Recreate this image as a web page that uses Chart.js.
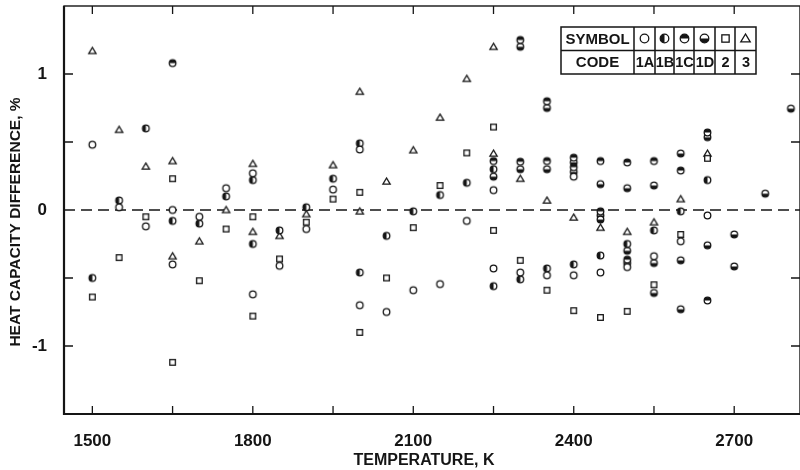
<!DOCTYPE html>
<html>
<head>
<meta charset="utf-8">
<script src="https://cdn.jsdelivr.net/npm/chart.js@4.4.1/dist/chart.umd.min.js"></script>
<style>
  html, body { margin: 0; padding: 0; background: #fff; }
</style>
</head>
<body>
<canvas id="chart" width="800" height="470"></canvas>
<script>
// Codes shown in the symbol table
const codes = ['1A', '1B', '1C', '1D', '2', '3'];

// Code 1A - open circle
const temps1A = [1500, 1550, 1600, 1650, 1650, 1700, 1750, 1800, 1800, 1850, 1900, 1950, 2000, 2000, 2050, 2100, 2150, 2200, 2250, 2250, 2300, 2350, 2400, 2400, 2450, 2500, 2550, 2600, 2650];
const diff1A  = [0.48, 0.02, -0.12, 0.0, -0.40, -0.05, 0.16, 0.27, -0.62, -0.41, -0.14, 0.15, 0.445, -0.70, -0.75, -0.59, -0.545, -0.08, 0.146, -0.43, -0.46, -0.48, 0.245, -0.48, -0.46, -0.42, -0.34, -0.23, -0.04];

// Code 1B - left half filled
const temps1B = [1500, 1550, 1600, 1650, 1700, 1750, 1800, 1800, 1850, 1900, 1950, 2000, 2000, 2050, 2100, 2150, 2200, 2250, 2250, 2300, 2350, 2400, 2450, 2500, 2550, 2600, 2650];
const diff1B  = [-0.50, 0.07, 0.60, -0.08, -0.10, 0.10, 0.22, -0.25, -0.15, 0.02, 0.23, 0.49, -0.46, -0.19, -0.01, 0.11, 0.20, 0.30, -0.56, -0.51, -0.43, -0.40, -0.335, -0.25, -0.15, -0.01, 0.22];

// Code 1C - top half filled
const temps1C = [1650, 2250, 2300, 2300, 2350, 2350, 2400, 2400, 2450, 2450, 2500, 2500, 2550, 2600, 2650, 2650];
const diff1C  = [1.08, 0.36, 1.25, 0.355, 0.80, 0.36, 0.385, 0.315, 0.36, -0.01, 0.35, -0.365, 0.36, 0.29, 0.57, -0.665];

// Code 1D - bottom half filled
const temps1D = [2250, 2300, 2300, 2350, 2350, 2400, 2400, 2450, 2450, 2450, 2500, 2500, 2500, 2550, 2550, 2550, 2600, 2600, 2600, 2650, 2650, 2700, 2700, 2758, 2806];
const diff1D  = [0.245, 1.20, 0.30, 0.75, 0.30, 0.35, 0.28, 0.19, -0.04, -0.07, 0.16, -0.30, -0.39, 0.18, -0.39, -0.61, 0.415, -0.37, -0.73, 0.535, -0.26, -0.18, -0.415, 0.12, 0.745];

// Code 2 - open square
const temps2 = [1500, 1550, 1600, 1650, 1650, 1700, 1750, 1800, 1800, 1850, 1900, 1950, 2000, 2000, 2050, 2100, 2150, 2200, 2250, 2250, 2300, 2350, 2400, 2450, 2500, 2550, 2600, 2650];
const diff2  = [-0.64, -0.35, -0.05, 0.23, -1.12, -0.52, -0.14, -0.05, -0.78, -0.36, -0.09, 0.08, 0.13, -0.90, -0.50, -0.13, 0.18, 0.42, 0.61, -0.15, -0.37, -0.59, -0.74, -0.79, -0.745, -0.55, -0.18, 0.38];

// Code 3 - open triangle
const temps3 = [1500, 1550, 1600, 1650, 1650, 1700, 1750, 1800, 1800, 1850, 1900, 1950, 2000, 2000, 2050, 2100, 2150, 2200, 2250, 2250, 2300, 2350, 2400, 2450, 2500, 2550, 2600, 2650];
const diff3  = [1.17, 0.59, 0.32, 0.36, -0.34, -0.23, 0.0, 0.34, -0.16, -0.19, -0.03, 0.33, 0.87, -0.01, 0.21, 0.44, 0.68, 0.965, 1.20, 0.415, 0.23, 0.07, -0.055, -0.13, -0.16, -0.09, 0.08, 0.415];

// Axis ranges
const xMin = 1447, xMax = 2823;
const yMin = -1.5, yMax = 1.5;

const INK = '#151515';
const FONT = "'Liberation Sans', Arial, sans-serif";
const NARROW = "'Liberation Sans Narrow', 'Liberation Sans', Arial, sans-serif";

// Build a small canvas used as a point style
function makeSymbol(kind, r, lw) {
    const s = Math.ceil(r * 2 + 6);
    const c = document.createElement('canvas');
    c.width = s; c.height = s;
    const g = c.getContext('2d');
    const m = s / 2;
    g.lineWidth = lw;
    g.strokeStyle = INK;
    g.fillStyle = '#fff';
    if (kind === 'square') {
        const h = r * 0.85;
        g.fillRect(m - h, m - h, 2 * h, 2 * h);
        g.strokeRect(m - h, m - h, 2 * h, 2 * h);
        return c;
    }
    if (kind === 'triangle') {
        g.beginPath();
        g.moveTo(m, m - r * 1.05);
        g.lineTo(m - r * 1.1, m + r * 0.8);
        g.lineTo(m + r * 1.1, m + r * 0.8);
        g.closePath();
        g.fill();
        g.stroke();
        return c;
    }
    g.beginPath();
    g.arc(m, m, r, 0, Math.PI * 2);
    g.fill();
    g.fillStyle = INK;
    const halves = { left: [Math.PI / 2, Math.PI * 1.5], top: [Math.PI, Math.PI * 2], bottom: [0, Math.PI] };
    if (halves[kind]) {
        g.beginPath();
        g.arc(m, m, r, halves[kind][0], halves[kind][1]);
        g.closePath();
        g.fill();
    }
    g.beginPath();
    g.arc(m, m, r, 0, Math.PI * 2);
    g.stroke();
    return c;
}

const symbolKinds = ['open', 'left', 'top', 'bottom', 'square', 'triangle'];
const plotSymbols = symbolKinds.map(k => makeSymbol(k, 3.3, 1.3));
const tableSymbols = symbolKinds.map(k => makeSymbol(k, 4.3, 1.3));

function toPoints(xs, ys) {
    return xs.map((x, i) => ({ x: x, y: ys[i] }));
}

const seriesData = [
    toPoints(temps1A, diff1A),
    toPoints(temps1B, diff1B),
    toPoints(temps1C, diff1C),
    toPoints(temps1D, diff1D),
    toPoints(temps2, diff2),
    toPoints(temps3, diff3)
];

const datasets = seriesData.map((pts, i) => ({
    label: codes[i],
    data: pts,
    pointStyle: plotSymbols[i],
    pointRadius: 4,
    order: 1
}));

// Dashed zero reference line
datasets.push({
    label: 'zero',
    data: [{ x: xMin, y: 0 }, { x: xMax, y: 0 }],
    showLine: true,
    borderColor: INK,
    borderWidth: 1.5,
    borderDash: [11, 6],
    pointRadius: 0,
    order: 10
});

// Frame, inward tick marks, axis titles and the symbol table
const framePlugin = {
    id: 'frame',
    afterDraw(chart) {
        const { ctx, chartArea: a, scales: { x, y } } = chart;
        ctx.save();
        ctx.strokeStyle = INK;
        ctx.fillStyle = INK;

        ctx.lineWidth = 1.4;
        ctx.strokeRect(a.left, a.top, a.right - a.left, a.bottom - a.top);
        ctx.lineWidth = 2.2;
        ctx.beginPath();
        ctx.moveTo(a.left, a.top);
        ctx.lineTo(a.left, a.bottom);
        ctx.lineTo(a.right, a.bottom);
        ctx.stroke();

        ctx.lineWidth = 1.3;
        x.ticks.forEach(t => {
            const px = x.getPixelForValue(t.value);
            ctx.beginPath();
            ctx.moveTo(px, a.bottom); ctx.lineTo(px, a.bottom - 8);
            ctx.moveTo(px, a.top); ctx.lineTo(px, a.top + 8);
            ctx.stroke();
        });
        y.ticks.forEach(t => {
            if (t.value <= yMin || t.value >= yMax || t.value === 0) return;
            const py = y.getPixelForValue(t.value);
            ctx.beginPath();
            ctx.moveTo(a.left, py); ctx.lineTo(a.left + 9, py);
            ctx.moveTo(a.right, py); ctx.lineTo(a.right - 9, py);
            ctx.stroke();
        });

        // Axis titles
        ctx.textAlign = 'center';
        ctx.textBaseline = 'middle';
        ctx.font = `bold 16px ${FONT}`;
        ctx.fillText('TEMPERATURE, K', 424, 461);
        ctx.save();
        ctx.translate(16, 222);
        ctx.rotate(-Math.PI / 2);
        ctx.font = `bold 15.5px ${FONT}`;
        ctx.fillText('HEAT CAPACITY DIFFERENCE, %', 0, 0);
        ctx.restore();

        // Symbol / code table
        const cols = [561, 634, 655, 674, 694, 715, 735, 756];
        const rows = [27, 50.5, 74];
        ctx.fillStyle = '#fff';
        ctx.fillRect(cols[0], rows[0], cols[7] - cols[0], rows[2] - rows[0]);
        ctx.fillStyle = INK;
        ctx.lineWidth = 1.5;
        ctx.strokeRect(cols[0], rows[0], cols[7] - cols[0], rows[2] - rows[0]);
        ctx.beginPath();
        ctx.moveTo(cols[0], rows[1]); ctx.lineTo(cols[7], rows[1]);
        for (let i = 1; i < 7; i++) {
            ctx.moveTo(cols[i], rows[0]); ctx.lineTo(cols[i], rows[2]);
        }
        ctx.stroke();

        ctx.font = `bold 15px ${FONT}`;
        const c0 = (cols[0] + cols[1]) / 2;
        ctx.fillText('SYMBOL', c0, (rows[0] + rows[1]) / 2 + 1);
        ctx.fillText('CODE', c0, (rows[1] + rows[2]) / 2 + 1);
        ctx.font = `bold 14.5px ${NARROW}`;
        codes.forEach((code, i) => {
            const cx = (cols[i + 1] + cols[i + 2]) / 2;
            const img = tableSymbols[i];
            ctx.drawImage(img, Math.round(cx - img.width / 2), Math.round((rows[0] + rows[1]) / 2 - img.height / 2));
            ctx.fillText(code, cx + 0.5, (rows[1] + rows[2]) / 2 + 1);
        });
        ctx.restore();
    }
};

const tickFont = { family: NARROW, size: 17, weight: 'bold' };

new Chart(document.getElementById('chart'), {
    type: 'scatter',
    data: { datasets: datasets },
    options: {
        responsive: false,
        animation: false,
        layout: { autoPadding: false, padding: { top: 6, right: 0, bottom: 0, left: 0 } },
        plugins: {
            legend: { display: false },
            tooltip: { enabled: false }
        },
        scales: {
            x: {
                type: 'linear',
                min: xMin,
                max: xMax,
                grid: { display: false, drawTicks: false },
                border: { display: false },
                ticks: {
                    stepSize: 150,
                    includeBounds: false,
                    autoSkip: false,
                    maxRotation: 0,
                    padding: 17,
                    color: INK,
                    font: tickFont,
                    callback: v => (v % 300 === 0 ? String(v) : '')
                },
                afterFit: s => {
                    s.height = 56;
                    s.paddingLeft = 0;
                    s.paddingRight = 0;
                }
            },
            y: {
                min: yMin,
                max: yMax,
                grid: { display: false, drawTicks: false },
                border: { display: false },
                ticks: {
                    stepSize: 0.5,
                    autoSkip: false,
                    padding: 17,
                    color: INK,
                    font: tickFont,
                    callback: v => (Number.isInteger(v) ? String(v) : '')
                },
                afterFit: s => {
                    s.width = 64;
                    s.paddingTop = 0;
                    s.paddingBottom = 0;
                }
            }
        }
    },
    plugins: [framePlugin]
});
</script>
</body>
</html>
